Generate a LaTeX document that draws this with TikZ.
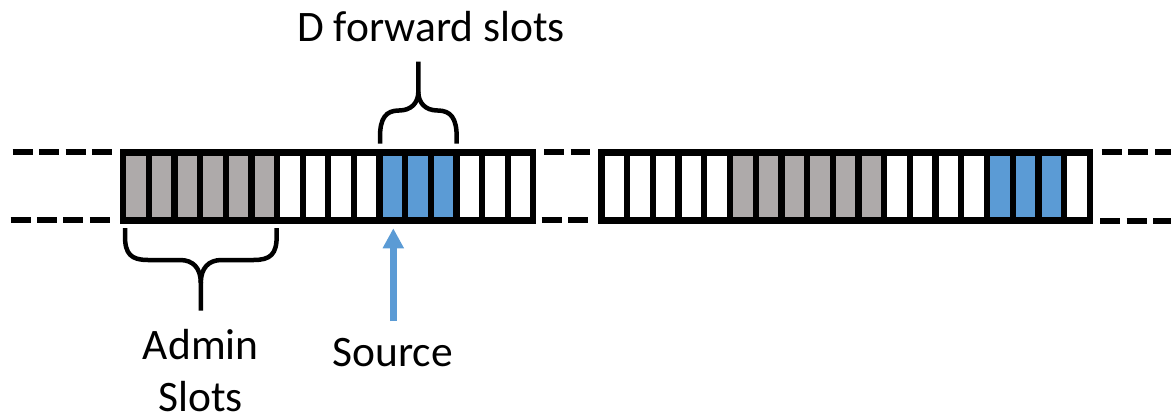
\documentclass[tikz,border=0pt]{standalone}
\usepackage{fontspec}
\setmainfont{Carlito}
\usetikzlibrary{arrows.meta}
\definecolor{admingray}{HTML}{AEAAAA}
\definecolor{fwdblue}{HTML}{5B9BD5}
\tikzset{
  slot/.style={draw=black, line width=6.3pt, minimum width=25.65pt, minimum height=68pt,
    inner sep=0pt, outer sep=0pt, fill=white},
  admin/.style={slot, fill=admingray},
  fwd/.style={slot, fill=fwdblue},
  dashline/.style={line width=6pt, dash pattern=on 20pt off 6.6pt},
  brace/.style={line width=4.5pt, line cap=butt},
  lbl/.style={font=\fontsize{43.5}{52.5}\selectfont, inner sep=0pt, anchor=base, align=center},
  srcarrow/.style={draw=fwdblue, line width=6.7pt, -{Triangle[length=20pt, width=20pt]}}
}
\begin{document}
\begin{tikzpicture}[x=1pt, y=-1pt]
  \useasboundingbox (0,0) rectangle (1171,412);
  \clip (0,0) rectangle (1171,412);

  % first frame: 16 slots
  \foreach \i in {1,...,16} {
    \pgfmathsetmacro{\cx}{123.3 + (\i-0.5)*25.625}
    \ifnum\i<7
      \node[admin] (a\i) at (\cx,186.5) {};
    \else\ifnum\i>10 \ifnum\i<14
      \node[fwd] (a\i) at (\cx,186.5) {};
    \else
      \node[slot] (a\i) at (\cx,186.5) {};
    \fi\else
      \node[slot] (a\i) at (\cx,186.5) {};
    \fi\fi
  }

  % second frame: 19 slots
  \foreach \i in {1,...,19} {
    \pgfmathsetmacro{\cx}{601.5 + (\i-0.5)*25.7}
    \ifnum\i>5 \ifnum\i<12
      \node[admin] (b\i) at (\cx,186.5) {};
    \else\ifnum\i>15 \ifnum\i<19
      \node[fwd] (b\i) at (\cx,186.5) {};
    \else
      \node[slot] (b\i) at (\cx,186.5) {};
    \fi\else
      \node[slot] (b\i) at (\cx,186.5) {};
    \fi\fi\else
      \node[slot] (b\i) at (\cx,186.5) {};
    \fi
  }

  % continuation dashes
  \draw[dashline, dash pattern=on 20pt off 6.43pt] (12.7,152.3) -- (112,152.3);
  \draw[dashline, dash pattern=on 20pt off 6.43pt] (10.5,220.3) -- (110,220.3);
  \draw[dashline, dash pattern=on 19.5pt off 7.2pt] (544,152.3) -- (590.2,152.3);
  \draw[dashline, dash pattern=on 20pt off 6.6pt] (541.7,220.3) -- (588.3,220.3);
  \draw[dashline] (1101.7,152.3) -- (1180,152.3);
  \draw[dashline] (1100,220.8) -- (1180,220.8);

  % brace over the forward slots
  \draw[brace] (380,143.5) -- (380,137)
    .. controls (380,118) and (386,110.5) .. (399,110.5)
    .. controls (411,110.5) and (418.3,103) .. (418.3,92) -- (418.3,61.7);
  \draw[brace] (456.7,143.5) -- (456.7,137)
    .. controls (456.7,118) and (450.6,110.5) .. (437.6,110.5)
    .. controls (425.6,110.5) and (418.3,103) .. (418.3,92);

  % brace under the admin slots
  \draw[brace] (125,228) -- (125,236)
    .. controls (125,254) and (131,260) .. (148,260) -- (180,260)
    .. controls (193,260) and (200.8,268) .. (200.8,283) -- (200.8,310.5);
  \draw[brace] (276.7,228) -- (276.7,236)
    .. controls (276.7,254) and (270.7,260) .. (253.7,260) -- (221.6,260)
    .. controls (208.6,260) and (200.8,268) .. (200.8,283);

  % labels (a multi-line node sits on the baseline of its last line)
  \node[lbl] (fwdlbl) at (431,41.7) {D forward slots};
  \node[lbl] (adminlbl) at (200.8,411.8) {Admin\\Slots};
  \node[lbl] (src) at (392.5,366) {Source};

  % source pointer
  \coordinate (srcTail) at (393.3,321);
  \coordinate (srcTip) at (393.3,228.3);
  \draw[srcarrow] (srcTail) -- (srcTip);
\end{tikzpicture}
\end{document}
